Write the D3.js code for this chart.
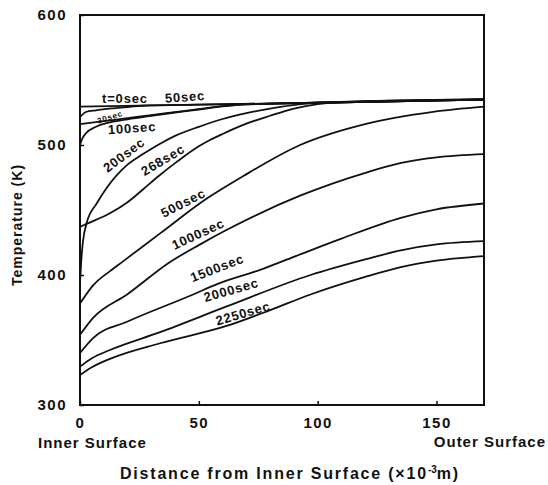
<!DOCTYPE html>
<html>
<head>
<meta charset="utf-8">
<script src="https://cdn.jsdelivr.net/npm/d3@7"></script>
<style>
  body { margin: 0; background: #fff; }
  text { font-family: "Liberation Sans", Arial, sans-serif; font-weight: bold; fill: #111; }
</style>
</head>
<body>
<svg id="chart" width="548" height="485"></svg>
<script>
// temperature profiles, [distance (x10^-3 m), temperature (K)]
var t0 = [[0,529.5],[50,531],[100,532.5],[170,535]];
var t30 = [[0,521.5],[2.5,525.4],[6.7,526.7],[15,528.4],[26.5,530.2],[50,531],[100,532.5],[170,535]];
var t50 = [[0,516],[10,518.3],[20,520.6],[30,523],[40,525.3],[50,527.6],[60,529.9],[70,531.3],[100,532.5],[170,535]];
var t100 = [[0,500],[1,505],[2.5,509],[6.7,514],[12,517.2],[20,519.8],[30,522.5],[40,525],[50,527.3],[60,529.7],[70,531.2],[100,532.5],[170,535]];
var t200 = [[0,394],[0.5,410],[1.2,425],[2.8,440],[7,455],[11.2,467],[19.4,484],[26.5,493],[33.7,501],[40,507],[50,514],[60,520],[70,524.5],[80,528],[92,531.3],[100,532.5],[170,535]];
var t268 = [[0,437],[3,439.5],[12.6,447.5],[20,456],[26.6,466],[33,476],[40.7,487],[50,499],[54.7,503.8],[60,508.5],[68.7,515.5],[80,522.5],[90,528],[100,531.5],[110,533],[170,535]];
var t500 = [[0,378],[5.5,392],[12.6,403],[18.1,410.5],[33.7,432],[53.5,459],[68.6,476],[92.6,500],[120.8,516.5],[148.6,525.5],[170,529.5]];
var t1000 = [[0,354],[5.5,367],[19.8,385],[37.9,410],[50,423],[61,434],[92.6,461],[120.8,479],[134.7,486],[150,490.5],[170,493]];
var t1500 = [[0,340],[5.5,351.5],[19.8,364],[47.6,385],[57.7,393],[75.8,404],[90,414],[110,428],[135,444],[150,450.5],[170,455]];
var t2000 = [[0,329.5],[5,336],[12.6,342.3],[33.7,356],[62,376],[97,400],[120,412],[135,419],[150,423.5],[170,426]];
var t2250 = [[0,323],[5,329],[12.6,335.5],[33.7,347.5],[62,361],[80,373],[97,385],[120,398.5],[135,406],[150,411],[170,414.5]];

var seriesNames = ['t=0sec','30sec','50sec','100sec','200sec','268sec','500sec','1000sec','1500sec','2000sec','2250sec'];
var seriesData = [t0, t30, t50, t100, t200, t268, t500, t1000, t1500, t2000, t2250];

var xTicks = [0, 50, 100, 150];
var yTicks = [300, 400, 500, 600];

// where each curve name is written: [distance, temperature, angle, font size]
var labelSpots = [
  [18.9, 535.4, 0, 13], [12.6, 521.3, -18, 8], [44.2, 537, -4, 13], [21.9, 513, -4, 13],
  [18.5, 492.3, -37, 13], [34.9, 488.5, -31, 13], [43.4, 455.4, -27, 13], [49.7, 431.5, -25, 13],
  [57.7, 405.4, -21, 13], [63.6, 388.5, -16, 13], [68.6, 370.5, -16, 13]
];

var svg = d3.select('#chart');

var x = d3.scaleLinear().domain([0, 170]).range([80, 484]);
var y = d3.scaleLinear().domain([300, 600]).range([405, 15]);

//axes, ticks pointing inside
var xAxis = svg.append('g')
    .attr('transform', 'translate(0,405)')
    .call(d3.axisBottom(x).tickValues(xTicks).tickSizeInner(-4).tickSizeOuter(0).tickPadding(12));
var yAxis = svg.append('g')
    .attr('transform', 'translate(80,0)')
    .call(d3.axisLeft(y).tickValues(yTicks).tickSizeInner(-4).tickSizeOuter(0).tickPadding(13));

[xAxis, yAxis].forEach(function(a) {
  a.select('.domain').remove();
  a.selectAll('line').attr('stroke', '#111').attr('stroke-width', 1.5);
  a.selectAll('text').attr('font-size', 15).attr('letter-spacing', 1.5).attr('fill', '#111')
      .attr('font-family', '"Liberation Sans", Arial, sans-serif');
});

//frame
svg.append('rect')
    .attr('x', x(0)).attr('y', y(600))
    .attr('width', x(170) - x(0)).attr('height', y(300) - y(600))
    .attr('fill', 'none').attr('stroke', '#111').attr('stroke-width', 2);

//curves
var line = d3.line()
    .x(function(d) { return x(d[0]); })
    .y(function(d) { return y(d[1]); })
    .curve(d3.curveMonotoneX);

svg.append('g').selectAll('path')
    .data(seriesData)
    .enter().append('path')
    .attr('d', line)
    .attr('fill', 'none')
    .attr('stroke', '#111')
    .attr('stroke-width', 1.8);

//curve names
svg.append('g').selectAll('text')
    .data(seriesNames)
    .enter().append('text')
    .attr('text-anchor', 'middle')
    .attr('dominant-baseline', 'central')
    .attr('font-size', function(d, i) { return labelSpots[i][3]; })
    .attr('letter-spacing', 0.8)
    .attr('transform', function(d, i) {
      var s = labelSpots[i];
      return 'translate(' + x(s[0]) + ',' + y(s[1]) + ') rotate(' + s[2] + ')';
    })
    .text(function(d) { return d; });

//axis titles
svg.append('text')
    .attr('x', 38).attr('y', 448)
    .attr('font-size', 15).attr('letter-spacing', 1)
    .text('Inner Surface');

svg.append('text')
    .attr('x', 546).attr('y', 447)
    .attr('text-anchor', 'end')
    .attr('font-size', 15).attr('letter-spacing', 1)
    .text('Outer Surface');

var title = svg.append('text')
    .attr('x', 290).attr('y', 479)
    .attr('text-anchor', 'middle')
    .attr('font-size', 16).attr('letter-spacing', 1.8);
title.append('tspan').text('Distance from Inner Surface (\u00d710');
title.append('tspan').attr('dy', -6).attr('font-size', 10).attr('letter-spacing', 0).text('-3');
title.append('tspan').attr('dy', 6).text('m)');

svg.append('text')
    .attr('transform', 'translate(22,225) rotate(-90)')
    .attr('text-anchor', 'middle')
    .attr('font-size', 14).attr('letter-spacing', 1)
    .text('Temperature (K)');
</script>
</body>
</html>
